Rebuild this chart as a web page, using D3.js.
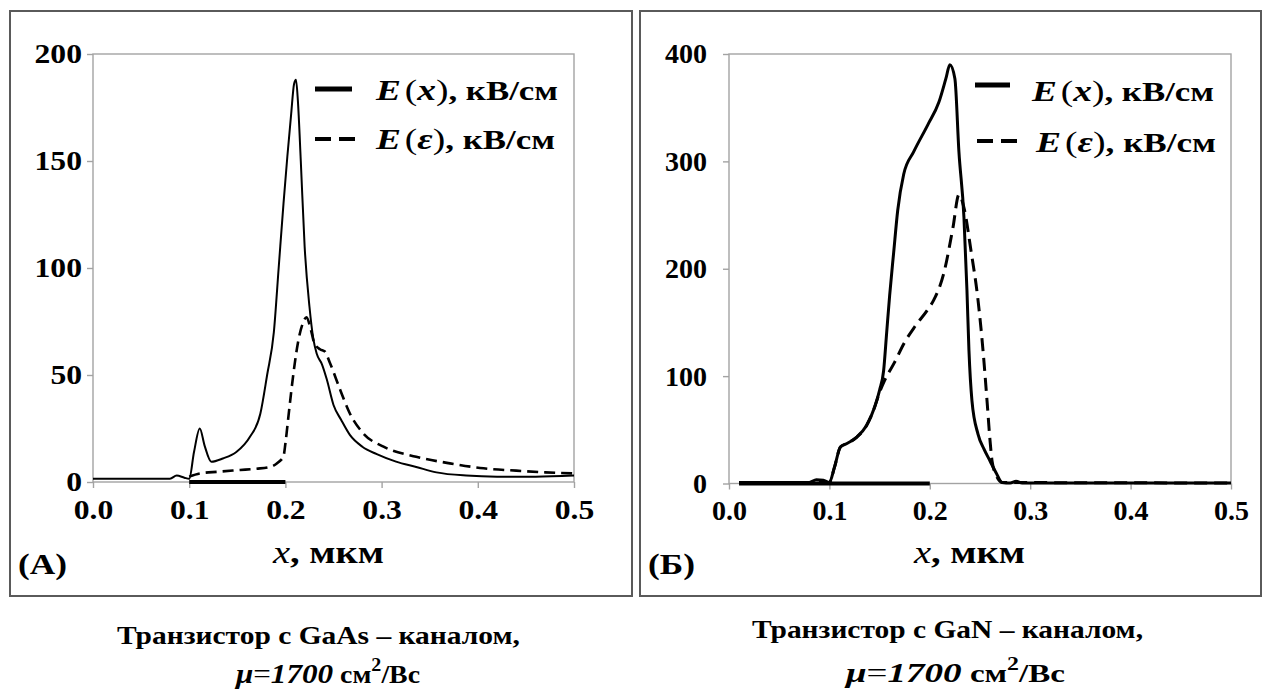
<!DOCTYPE html>
<html>
<head>
<meta charset="utf-8">
<script src="https://cdn.jsdelivr.net/npm/d3@7"></script>
<style>
  html, body { margin: 0; padding: 0; background: #fff; }
  svg text { font-family: "Liberation Serif", "Times New Roman", serif; fill: #000; }
</style>
</head>
<body>
<svg id="chart" width="1266" height="694"></svg>
<script>
// ---- data ---------------------------------------------------------------
const xTicks = [0, 0.1, 0.2, 0.3, 0.4, 0.5];
const gaasYTicks = [0, 50, 100, 150, 200];
const ganYTicks = [0, 100, 200, 300, 400];

// GaAs channel: field along the channel E(x), kV/cm
const gaasFieldX = [0, 0.05, 0.08, 0.087, 0.095, 0.1, 0.105, 0.111, 0.116, 0.123, 0.135, 0.149, 0.163, 0.174, 0.181, 0.188, 0.193, 0.198, 0.202, 0.206, 0.209, 0.211, 0.213, 0.216, 0.22, 0.225, 0.229, 0.2325, 0.238, 0.243, 0.25, 0.258, 0.267, 0.28, 0.295, 0.315, 0.336, 0.357, 0.388, 0.42, 0.46, 0.5];
const gaasFieldE = [1.5, 1.5, 1.5, 3, 2, 1.5, 14, 25, 17, 9.5, 11, 14, 21, 32, 50, 70, 100, 130, 152, 172, 186, 188, 178, 150, 110, 82, 67, 60, 55, 48, 36, 29, 22, 16.5, 13, 9.5, 7, 4.5, 3, 2.5, 2.5, 3];
// GaAs channel: energy-equivalent field E(ε), kV/cm
const gaasEnergyX = [0.1, 0.111, 0.13, 0.153, 0.17, 0.184, 0.192, 0.198, 0.2, 0.203, 0.206, 0.209, 0.213, 0.218, 0.222, 0.226, 0.23, 0.236, 0.241, 0.246, 0.257, 0.267, 0.281, 0.302, 0.336, 0.371, 0.406, 0.44, 0.47, 0.5];
const gaasEnergyE = [2.5, 4, 4.8, 5.6, 6.2, 7, 9, 12, 18, 30, 42, 53, 65, 74, 77, 72, 65, 62, 61, 56, 43, 32, 22.7, 16.5, 11.8, 8.7, 6.4, 5.3, 4.5, 4];
const gaasGate = [0.1, 0.2];

// GaN channel
const ganFieldX = [0.01, 0.05, 0.08, 0.087, 0.094, 0.1, 0.105, 0.111, 0.117, 0.127, 0.137, 0.145, 0.15, 0.154, 0.157, 0.16, 0.164, 0.168, 0.174, 0.184, 0.198, 0.209, 0.216, 0.22, 0.225, 0.229, 0.234, 0.237, 0.239, 0.242, 0.248, 0.254, 0.26, 0.266, 0.272, 0.28, 0.286, 0.292, 0.3, 0.5];
const ganFieldE = [1, 1, 1, 3.5, 3, 1, 15, 34, 37, 43, 54, 71, 87, 105, 140, 175, 215, 254, 288, 309, 334, 355, 377, 390, 377, 309, 248, 180, 124, 77, 46, 32, 21, 10, 1, 0.5, 2, 0.5, 0.5, 0.5];
const ganEnergyX = [0.01, 0.08, 0.1, 0.105, 0.111, 0.117, 0.127, 0.137, 0.145, 0.15, 0.155, 0.165, 0.174, 0.185, 0.198, 0.204, 0.214, 0.223, 0.229, 0.234, 0.241, 0.248, 0.253, 0.257, 0.26, 0.262, 0.266, 0.272, 0.5];
const ganEnergyE = [1, 1, 1, 15, 34, 37, 43, 54, 71, 85, 96, 113, 130, 146, 162, 171, 196, 238, 269, 257, 217, 171, 124, 77, 40, 21, 8, 1, 0.5];
const ganGate = [0.01, 0.2];

const legendSymbols = ["x", "ε"];
const legendUnit = ", кВ/см";
const axisTitleVar = "x";
const axisTitleUnit = ", мкм";
const captionLine1 = ["Транзистор с GaAs – каналом,", "Транзистор с GaN – каналом,"];
const mobility = "1700";
const panelTags = ["(A)", "(Б)"];

// ---- layout -------------------------------------------------------------
const panels = [
  {
    box: [10, 11, 622, 585],
    plot: { left: 93, right: 574, top: 54, bottom: 482 },
    yTicks: gaasYTicks,
    field: [gaasFieldX, gaasFieldE], energy: [gaasEnergyX, gaasEnergyE], gate: gaasGate,
    stretch: 1.13, yPad: 5, solidW: 2, dashW: 2.6, dash: "11,6",
    legend: { solid: [315, 352, 89], dashed: [315, 356, 139], textX: [376, 376], base: [100, 149], w: [182, 179] },
    title: { x: 273, w: 111, y: 563 },
    tag: { text: panelTags[0], x: 18, w: 49, y: 574 },
    cap1: { text: captionLine1[0], x: 117, w: 403, y: 644 },
    cap2: { x: 236, w: 184, y: 683 }
  },
  {
    box: [640, 11, 621, 585],
    plot: { left: 729, right: 1231, top: 54, bottom: 483.5 },
    yTicks: ganYTicks,
    field: [ganFieldX, ganFieldE], energy: [ganEnergyX, ganEnergyE], gate: ganGate,
    stretch: 1.0, yPad: 16, solidW: 3, dashW: 3, dash: "13,7",
    legend: { solid: [975, 1010, 85], dashed: [977, 1019, 141], textX: [1032, 1036], base: [101, 152], w: [182, 180] },
    title: { x: 914, w: 111, y: 563 },
    tag: { text: panelTags[1], x: 648, w: 47, y: 574 },
    cap1: { text: captionLine1[1], x: 752, w: 391, y: 638 },
    cap2: { x: 846, w: 219, y: 682 }
  }
];

const svg = d3.select("#chart");
const axisGray = "#a3a3a3";

function stretchText(sel, factor) {
  sel.each(function () {
    const n = this.getComputedTextLength();
    d3.select(this).attr("textLength", n * factor).attr("lengthAdjust", "spacingAndGlyphs");
  });
}

panels.forEach((p, i) => {
  const g = svg.append("g");

  // outer frame of the panel
  g.append("rect")
    .attr("x", p.box[0]).attr("y", p.box[1])
    .attr("width", p.box[2]).attr("height", p.box[3])
    .attr("fill", "none").attr("stroke", "#5a5a5a").attr("stroke-width", 2);

  const x = d3.scaleLinear().domain([0, 0.5]).range([p.plot.left, p.plot.right]);
  const yMax = p.yTicks[p.yTicks.length - 1];
  const y = d3.scaleLinear().domain([0, yMax]).range([p.plot.bottom, p.plot.top]);

  // plot area border
  g.append("rect")
    .attr("x", p.plot.left).attr("y", p.plot.top)
    .attr("width", p.plot.right - p.plot.left).attr("height", p.plot.bottom - p.plot.top)
    .attr("fill", "none").attr("stroke", axisGray).attr("stroke-width", 1.4);

  // axes
  const yAxis = g.append("g")
    .attr("transform", `translate(${p.plot.left},0)`)
    .call(d3.axisLeft(y).tickValues(p.yTicks).tickSize(6).tickPadding(p.yPad).tickFormat(d3.format("d")));
  const xAxis = g.append("g")
    .attr("transform", `translate(0,${p.plot.bottom})`)
    .call(d3.axisBottom(x).tickValues(xTicks).tickSize(6).tickPadding(11).tickFormat(d3.format(".1f")));
  [yAxis, xAxis].forEach(ax => {
    ax.select(".domain").remove();
    ax.selectAll(".tick line").attr("stroke", axisGray).attr("stroke-width", 1.4);
    ax.selectAll(".tick text")
      .attr("font-family", "Liberation Serif, serif")
      .attr("font-size", 28).attr("font-weight", "bold").attr("fill", "#000");
    stretchText(ax.selectAll(".tick text"), p.stretch);
  });

  // gate electrode marker along the axis
  g.append("line")
    .attr("x1", x(p.gate[0])).attr("x2", x(p.gate[1]))
    .attr("y1", y(0)).attr("y2", y(0))
    .attr("stroke", "#000").attr("stroke-width", 4);

  const line = d3.line().x(d => x(d[0])).y(d => y(d[1])).curve(d3.curveMonotoneX);
  const fieldPts = d3.zip(p.field[0], p.field[1]);
  const energyPts = d3.zip(p.energy[0], p.energy[1]);

  g.append("path").datum(fieldPts).attr("d", line)
    .attr("fill", "none").attr("stroke", "#000").attr("stroke-width", p.solidW)
    .attr("stroke-linejoin", "round");
  g.append("path").datum(energyPts).attr("d", line)
    .attr("fill", "none").attr("stroke", "#000").attr("stroke-width", p.dashW)
    .attr("stroke-dasharray", p.dash);

  // legend
  const L = p.legend;
  g.append("line").attr("x1", L.solid[0]).attr("x2", L.solid[1])
    .attr("y1", L.solid[2]).attr("y2", L.solid[2])
    .attr("stroke", "#000").attr("stroke-width", 5);
  g.append("line").attr("x1", L.dashed[0]).attr("x2", L.dashed[1])
    .attr("y1", L.dashed[2]).attr("y2", L.dashed[2])
    .attr("stroke", "#000").attr("stroke-width", 4).attr("stroke-dasharray", "16,8");
  legendSymbols.forEach((sym, k) => {
    const t = g.append("text").attr("x", L.textX[k]).attr("y", L.base[k]).attr("font-size", 29);
    t.append("tspan").attr("font-style", "italic").attr("font-weight", "bold").text("E");
    t.append("tspan").attr("dx", 3).text("(");
    t.append("tspan").attr("font-style", "italic").attr("font-weight", "bold").text(sym);
    t.append("tspan").text(")");
    t.append("tspan").attr("font-weight", "bold").attr("font-size", 27).text(legendUnit);
    t.attr("textLength", L.w[k]).attr("lengthAdjust", "spacingAndGlyphs");
  });

  // x-axis title
  const tt = g.append("text").attr("x", p.title.x).attr("y", p.title.y).attr("font-size", 31);
  tt.append("tspan").attr("font-style", "italic").text(axisTitleVar);
  tt.append("tspan").attr("font-weight", "bold").text(axisTitleUnit);
  tt.attr("textLength", p.title.w).attr("lengthAdjust", "spacingAndGlyphs");

  // panel tag
  g.append("text").attr("x", p.tag.x).attr("y", p.tag.y)
    .attr("font-size", 29).attr("font-weight", "bold").text(p.tag.text)
    .attr("textLength", p.tag.w).attr("lengthAdjust", "spacingAndGlyphs");

  // caption below the panel
  svg.append("text").attr("x", p.cap1.x).attr("y", p.cap1.y)
    .attr("font-size", 25).attr("font-weight", "bold").text(p.cap1.text)
    .attr("textLength", p.cap1.w).attr("lengthAdjust", "spacingAndGlyphs");

  const c2 = svg.append("text").attr("x", p.cap2.x).attr("y", p.cap2.y)
    .attr("font-size", 28).attr("font-weight", "bold");
  c2.append("tspan").attr("font-style", "italic").text("μ");
  c2.append("tspan").attr("font-weight", "normal").text("=");
  c2.append("tspan").attr("font-style", "italic").text(mobility);
  c2.append("tspan").attr("font-size", 25).text(" см");
  c2.append("tspan").attr("font-size", 18).attr("dy", -12).text("2");
  c2.append("tspan").attr("font-size", 25).attr("dy", 12).text("/Вс");
  c2.attr("textLength", p.cap2.w).attr("lengthAdjust", "spacingAndGlyphs");
});
</script>
</body>
</html>
